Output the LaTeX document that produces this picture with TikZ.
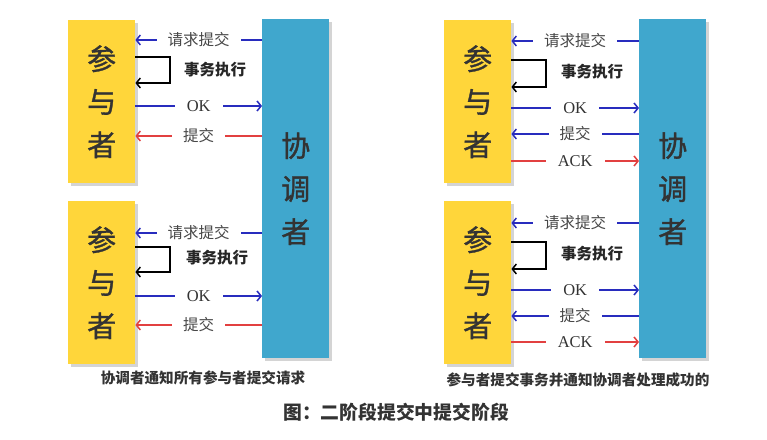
\documentclass[tikz,border=0pt]{standalone}
\usepackage{fontspec}
\setmainfont{Noto Sans CJK SC}
\newfontfamily\cjkmed[FakeBold=1.2]{Noto Sans CJK SC}
\newfontfamily\latinserif{Liberation Serif}
\usetikzlibrary{arrows.meta,shadows}
\definecolor{pyellow}{RGB}{255,214,58}
\definecolor{cblue}{RGB}{64,167,205}
\definecolor{abl}{RGB}{40,44,190}
\definecolor{ared}{RGB}{226,64,64}
\definecolor{txt}{RGB}{51,51,51}
\tikzset{
  boxshadow/.style={drop shadow={shadow xshift=3pt,shadow yshift=-3pt,opacity=.28,fill=black!60}},
  pbox/.style={fill=pyellow,draw=none,minimum width=67pt,minimum height=163pt,anchor=north west,inner sep=0pt,
    align=center,text=txt,font=\cjkmed\fontsize{29}{43}\selectfont,boxshadow},
  cbox/.style={fill=cblue,draw=none,minimum width=67pt,minimum height=339pt,anchor=north west,inner sep=0pt,
    align=center,text=txt,font=\cjkmed\fontsize{29}{43}\selectfont,boxshadow},
  lab/.style={fill=white,inner xsep=11pt,inner ysep=1pt,text=txt!90,font=\fontsize{15.5}{16}\selectfont},
  oklab/.style={fill=white,inner xsep=12pt,inner ysep=1pt,text=txt,font=\latinserif\fontsize{16.5}{17}\selectfont},
  boldlab/.style={text=black!85,font=\bfseries\fontsize{15.5}{16}\selectfont},
  bl/.style={draw=abl,line width=1.5pt,-{Straight Barb[length=4pt,width=10pt]}},
  rd/.style={draw=ared,line width=1.5pt,-{Straight Barb[length=4pt,width=10pt]}},
  selfloop/.style={draw=black,line width=1.5pt,-{Straight Barb[length=4pt,width=10pt]}},
  capt/.style={text=txt,font=\bfseries\fontsize{14.6}{15}\selectfont},
  titl/.style={text=txt,font=\bfseries\fontsize{18.8}{19}\selectfont},
}
\begin{document}
\begin{tikzpicture}[x=1pt,y=-1pt]
\useasboundingbox[fill=white] (0,0) rectangle (767,439);
% ---------- left panel ----------
\node[cbox] (c1) at (262,19) {协\\调\\者};
\node[pbox] (p1) at (68,20) {参\\与\\者};
\node[pbox] (p2) at (68,201) {参\\与\\者};
% top
\draw[bl] (c1.west |- 0,40) -- node[lab]{请求提交} (p1.east |- 0,40);
\draw[selfloop] (p1.east |- 0,57) -- (170,57) -- (170,83) -- (p1.east |- 0,83);
\node[boldlab] (e1) at (215,70) {事务执行};
\draw[bl] (p1.east |- 0,106) -- node[oklab]{OK} (c1.west |- 0,106);
\draw[rd] (c1.west |- 0,136) -- node[lab]{提交} (p1.east |- 0,136);
% bottom
\draw[bl] (c1.west |- 0,233) -- node[lab]{请求提交} (p2.east |- 0,233);
\draw[selfloop] (p2.east |- 0,247) -- (170,247) -- (170,272) -- (p2.east |- 0,272);
\node[boldlab] (e2) at (217,258) {事务执行};
\draw[bl] (p2.east |- 0,296) -- node[oklab]{OK} (c1.west |- 0,296);
\draw[rd] (c1.west |- 0,325) -- node[lab]{提交} (p2.east |- 0,325);
\node[capt] (cap1) at (203,378) {协调者通知所有参与者提交请求};
% ---------- right panel ----------
\node[cbox] (c2) at (639,19) {协\\调\\者};
\node[pbox] (p3) at (444,20) {参\\与\\者};
\node[pbox] (p4) at (444,201) {参\\与\\者};
% top
\draw[bl] (c2.west |- 0,41) -- node[lab]{请求提交} (p3.east |- 0,41);
\draw[selfloop] (p3.east |- 0,60) -- (546,60) -- (546,87) -- (p3.east |- 0,87);
\node[boldlab] (e3) at (592,72) {事务执行};
\draw[bl] (p3.east |- 0,108) -- node[oklab]{OK} (c2.west |- 0,108);
\draw[bl] (c2.west |- 0,134) -- node[lab]{提交} (p3.east |- 0,134);
\draw[rd] (p3.east |- 0,161) -- node[oklab]{ACK} (c2.west |- 0,161);
% bottom
\draw[bl] (c2.west |- 0,223) -- node[lab]{请求提交} (p4.east |- 0,223);
\draw[selfloop] (p4.east |- 0,242) -- (546,242) -- (546,269) -- (p4.east |- 0,269);
\node[boldlab] (e4) at (592,254) {事务执行};
\draw[bl] (p4.east |- 0,290) -- node[oklab]{OK} (c2.west |- 0,290);
\draw[bl] (c2.west |- 0,316) -- node[lab]{提交} (p4.east |- 0,316);
\draw[rd] (p4.east |- 0,342) -- node[oklab]{ACK} (c2.west |- 0,342);
\node[capt] (cap2) at (578,380) {参与者提交事务并通知协调者处理成功的};
% title
\node[titl] (title) at (396,412) {图：二阶段提交中提交阶段};
\end{tikzpicture}
\end{document}
